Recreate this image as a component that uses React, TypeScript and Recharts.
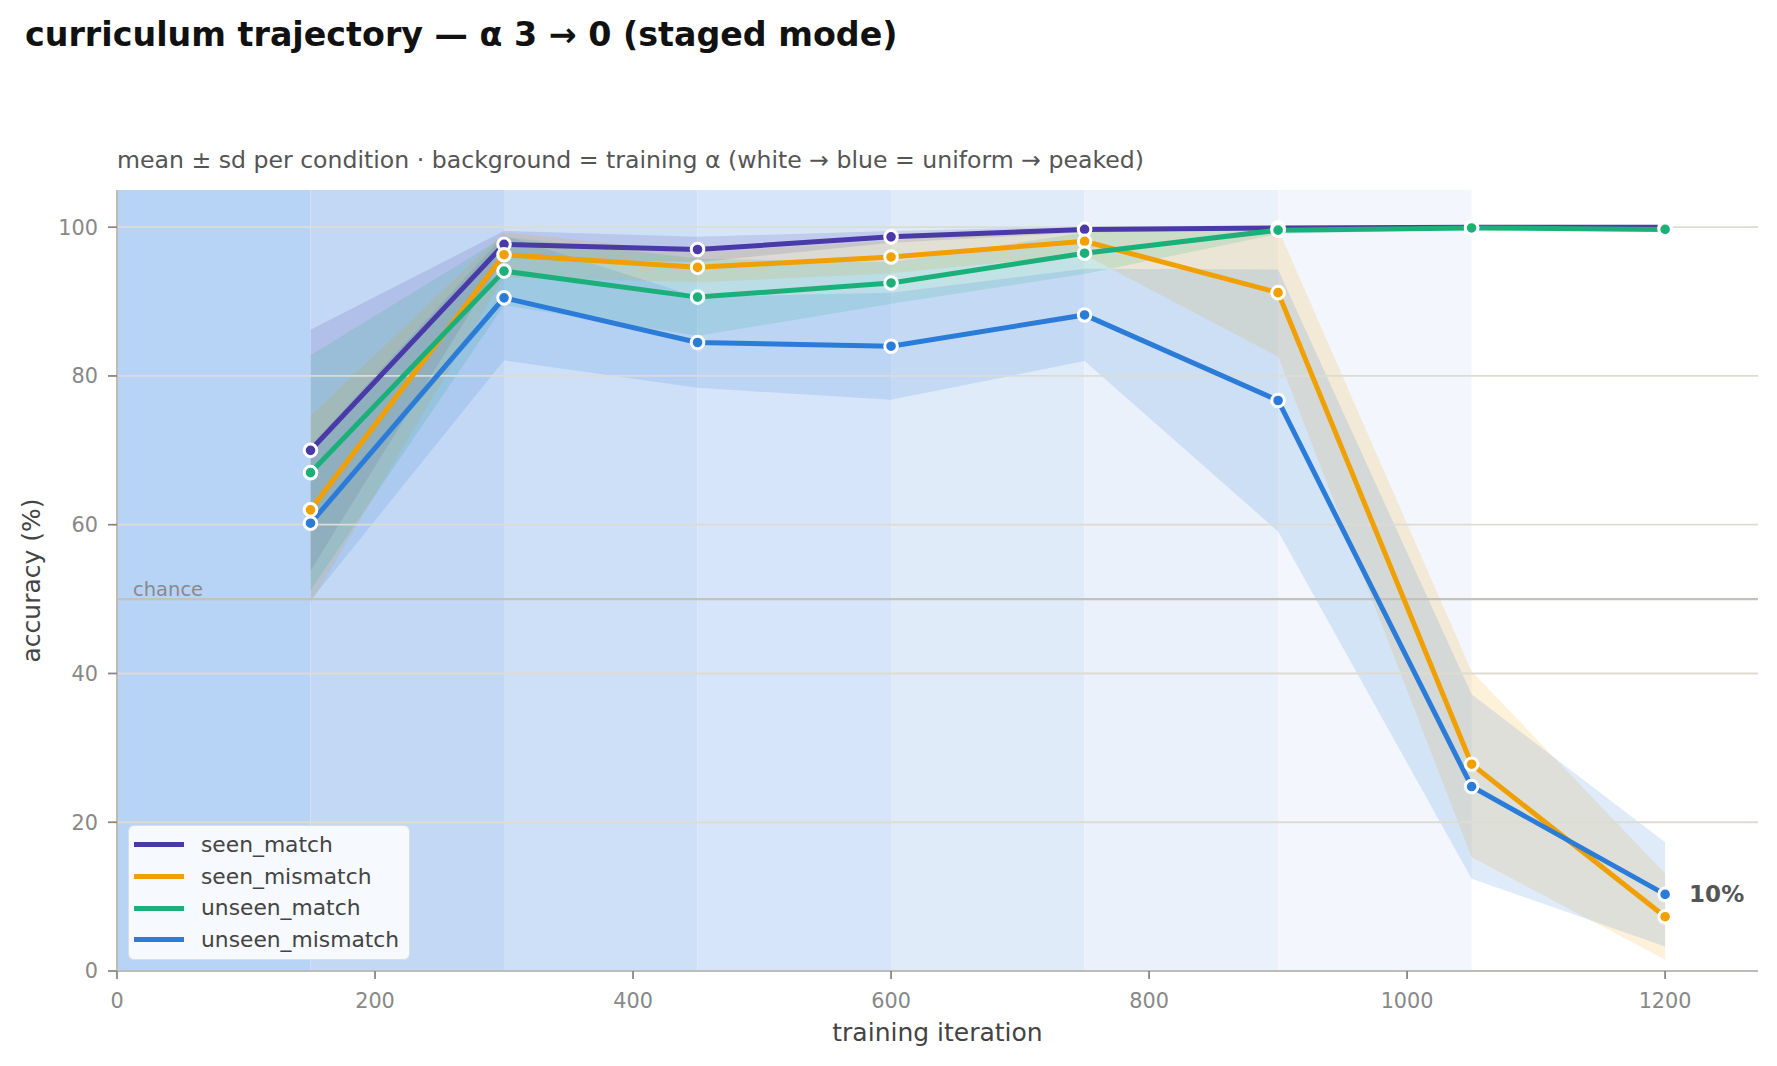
import React from "react"
import {
  ComposedChart,
  Line,
  Area,
  XAxis,
  YAxis,
  ReferenceArea,
  ReferenceLine,
  Legend,
} from "recharts"

const FONT = "'DejaVu Sans', sans-serif"

// training checkpoints
const iterations = [150, 300, 450, 600, 750, 900, 1050, 1200]

// mean accuracy (%) per condition
const seenMatch = [70.0, 97.7, 97.0, 98.7, 99.7, 99.9, 100.0, 100.0]
const seenMismatch = [62.0, 96.3, 94.6, 96.0, 98.1, 91.2, 27.8, 7.3]
const unseenMatch = [67.0, 94.1, 90.6, 92.5, 96.5, 99.6, 99.9, 99.7]
const unseenMismatch = [60.2, 90.5, 84.5, 84.0, 88.2, 76.7, 24.8, 10.3]

// sd per condition
const seenMatchSd = [16.2, 1.8, 1.7, 0.8, 0.4, 0.2, 0.1, 0.1]
const seenMismatchSd = [12.6, 3.0, 2.0, 2.2, 1.8, 8.6, 12.5, 5.8]
const unseenMatchSd = [15.8, 4.6, 5.2, 2.8, 2.8, 0.5, 0.2, 0.3]
const unseenMismatchSd = [10.4, 8.4, 6.1, 7.2, 6.2, 17.6, 12.4, 7.0]

// training alpha stages (background)
const stageStarts = [0, 150, 300, 450, 600, 750, 900]
const stageEnds = [150, 300, 450, 600, 750, 900, 1050]
const stageColors = ["#b7d3f6", "#c3d8f5", "#cde0f8", "#d6e5f9", "#e0ebfa", "#eaf1fb", "#f3f7fd"]

const xTicks = [0, 200, 400, 600, 800, 1000, 1200]
const yTicks = [0, 20, 40, 60, 80, 100]
const gridLines = [20, 40, 60, 80, 100]

const series = [
  { key: "seen_match", color: "#4a3aa8", mean: seenMatch, sd: seenMatchSd },
  { key: "seen_mismatch", color: "#f0a000", mean: seenMismatch, sd: seenMismatchSd },
  { key: "unseen_match", color: "#1bb07a", mean: unseenMatch, sd: unseenMatchSd },
  { key: "unseen_mismatch", color: "#2b7bd9", mean: unseenMismatch, sd: unseenMismatchSd },
]

const data = iterations.map((it, i) => {
  const row: any = { it }
  series.forEach((s) => {
    row[s.key] = s.mean[i]
    row[s.key + "_band"] = [s.mean[i] - s.sd[i], s.mean[i] + s.sd[i]]
  })
  return row
})

const LegendBox = () => (
  <div
    style={{
      background: "rgba(249,251,253,0.95)",
      border: "1.5px solid #dcdcdc",
      borderRadius: 6,
      paddingTop: 3,
      width: 282,
      height: 135,
      boxSizing: "border-box",
      fontFamily: FONT,
    }}
  >
    {series.map((s) => (
      <div key={s.key} style={{ display: "flex", alignItems: "center", height: 31.7 }}>
        <div style={{ width: 50, height: 5, background: s.color, marginLeft: 5, marginRight: 17 }} />
        <span style={{ fontSize: 21.8, color: "#444", lineHeight: 1 }}>{s.key}</span>
      </div>
    ))}
  </div>
)

const lastIndex = iterations.length - 1

const EndLabel = (props: any) => {
  if (props.index !== lastIndex) return null
  return (
    <text
      x={props.x + 24}
      y={props.y}
      dominantBaseline="central"
      fontFamily={FONT}
      fontWeight="bold"
      fontSize={23}
      fill="#555"
    >
      {Math.round(props.value)}%
    </text>
  )
}

const ChanceLabel = (props: any) => {
  const vb = props.viewBox || {}
  return (
    <text x={vb.x + 16} y={vb.y - 3} fontFamily={FONT} fontSize={19.5} fill="#8a8a8a">
      chance
    </text>
  )
}

const YLabel = (props: any) => {
  const vb = props.viewBox || {}
  const cx = 31
  const cy = vb.y + vb.height / 2
  return (
    <text
      x={cx}
      y={cy}
      transform={`rotate(-90 ${cx} ${cy})`}
      textAnchor="middle"
      dominantBaseline="central"
      fontFamily={FONT}
      fontSize={25}
      fill="#444"
    >
      accuracy (%)
    </text>
  )
}

export default function App() {
  return (
    <div style={{ position: "absolute", left: 0, top: 0, width: 1777, height: 1066, background: "#fff" }}>
      <svg width={1777} height={190} style={{ position: "absolute", left: 0, top: 0 }}>
        <text x={25} y={46} fontFamily={FONT} fontWeight="bold" fontSize={33.3} fill="#111">
          curriculum trajectory — α 3 → 0 (staged mode)
        </text>
        <text x={117} y={168} fontFamily={FONT} fontSize={23.6} fill="#555">
          mean ± sd per condition · background = training α (white → blue = uniform → peaked)
        </text>
      </svg>
      <ComposedChart
        width={1777}
        height={1066}
        data={data}
        margin={{ top: 190, right: 19, bottom: 0, left: 0 }}
        style={{ fontFamily: FONT }}
      >
        <XAxis
          dataKey="it"
          type="number"
          domain={[0, 1272]}
          ticks={xTicks}
          allowDataOverflow
          height={95}
          stroke="#bdbdb5"
          strokeWidth={2}
          tickSize={8}
          tickMargin={14}
          tickLine={{ stroke: "#888", strokeWidth: 1.8 }}
          tick={{ fill: "#888", fontSize: 20.8, fontFamily: FONT }}
          label={{ value: "training iteration", position: "insideBottom", offset: 25, fill: "#444", fontSize: 25, fontFamily: FONT }}
        />
        <YAxis
          type="number"
          domain={[0, 105]}
          ticks={yTicks}
          allowDataOverflow
          width={117}
          stroke="#bdbdb5"
          strokeWidth={2}
          tickSize={9}
          tickMargin={10}
          tickLine={{ stroke: "#888", strokeWidth: 1.8 }}
          tick={{ fill: "#888", fontSize: 20.8, fontFamily: FONT }}
          label={<YLabel />}
        />
        {stageStarts.map((s, i) => (
          <ReferenceArea
            key={`stage-${s}`}
            x1={s}
            x2={stageEnds[i]}
            y1={0}
            y2={105}
            fill={stageColors[i]}
            fillOpacity={1}
            stroke="none"
            ifOverflow="hidden"
          />
        ))}
        {gridLines.map((g) => (
          <ReferenceLine key={`grid-${g}`} y={g} stroke="#dedcd2" strokeWidth={1.8} />
        ))}
        <ReferenceLine y={50} stroke="#c3c2b8" strokeWidth={2.2} label={<ChanceLabel />} />
        {series.map((s) => (
          <Area
            key={s.key + "_band"}
            dataKey={s.key + "_band"}
            type="linear"
            stroke="none"
            fill={s.color}
            fillOpacity={0.15}
            dot={false}
            activeDot={false}
            isAnimationActive={false}
            legendType="none"
          />
        ))}
        {series.map((s) => (
          <Line
            key={s.key}
            dataKey={s.key}
            type="linear"
            stroke={s.color}
            strokeWidth={5}
            dot={{ r: 6.3, fill: s.color, stroke: "#fff", strokeWidth: 3 }}
            activeDot={false}
            isAnimationActive={false}
            label={s.key === "unseen_mismatch" ? <EndLabel /> : false}
          />
        ))}
        <Legend
          layout="horizontal"
          verticalAlign="middle"
          align="center"
          content={<LegendBox />}
          wrapperStyle={{ left: 128, top: 825, width: 282, height: 135 }}
        />
      </ComposedChart>
    </div>
  )
}
